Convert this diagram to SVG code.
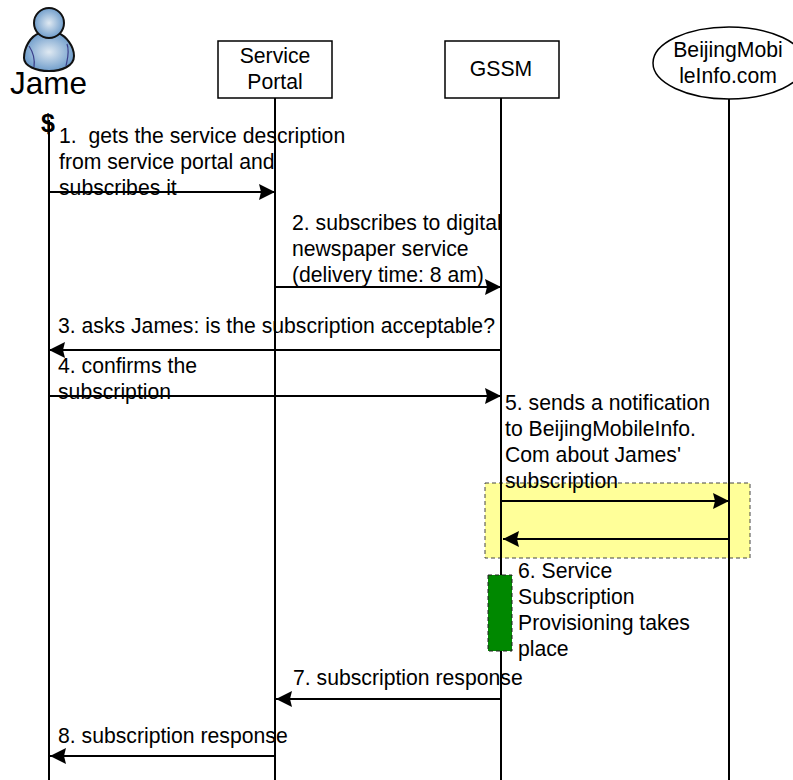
<svg xmlns="http://www.w3.org/2000/svg" width="793" height="780" viewBox="0 0 793 780">
<style>
text{font-family:"Liberation Sans",Arial,sans-serif;font-size:21.2px;fill:#000;white-space:pre}
.l{stroke:#000;stroke-width:2;fill:none}
.a{stroke:#000;stroke-width:2;fill:none;marker-end:url(#h)}
.n{fill:#fff;stroke:#000;stroke-width:1.5}
.c{text-anchor:middle}
</style>
<defs>
<marker id="h" markerUnits="userSpaceOnUse" markerWidth="18" markerHeight="18" refX="16" refY="8" orient="auto"><path d="M0 0L16 8L0 16L2 8Z" fill="#000"/></marker>
<radialGradient id="g" cx="50%" cy="50%" r="60%"><stop offset="0" stop-color="#dfe9f2"/><stop offset="1" stop-color="#5b8fc4"/></radialGradient>
</defs>
<rect x="485" y="483" width="265" height="75" fill="#ffff99" stroke="#444" stroke-width="1" stroke-dasharray="4 3"/>
<g id="connectors">
<path class="l" d="M49 120V780M275 98V780M501 98V575M501 651V780M729 99V780"/>
<path class="a" d="M49 192H275"/>
<path class="a" d="M275 287H501"/>
<path class="a" d="M501 350H49"/>
<path class="a" d="M49 396H501"/>
<path class="a" d="M501 501H729"/>
<path class="a" d="M729 539H503"/>
<path class="a" d="M501 699H276"/>
<path class="a" d="M275 756H50"/>
</g>
<g id="jame">
<path d="M40 33C30 36 24 48 24 58C24 66 36 71 49 71C62 71 74 66 74 56C74 46 66 36 58 33C52 38 46 38 40 33Z" fill="url(#g)" stroke="#111" stroke-width="2"/>
<path d="M29 46C33 52 35 60 34 67M67 44C70 52 67 60 66 66" fill="none" stroke="#3b3f8a" stroke-width="1.2"/>
<circle cx="49" cy="23" r="15" fill="url(#g)" stroke="#111" stroke-width="2"/>
<text x="10" y="94" style="font-size:31.5px">Jame</text>
<text x="41" y="132" style="font-size:25px;font-weight:bold">$</text>
</g>
<g id="portal"><rect class="n" x="218" y="41" width="114" height="57"/>
<text class="c" x="275" y="63">Service</text><text class="c" x="275" y="89">Portal</text></g>
<g id="gssm"><rect class="n" x="445" y="41" width="114" height="57"/>
<text class="c" x="501" y="76">GSSM</text></g>
<g id="beijing"><ellipse cx="729" cy="63" rx="76" ry="36" fill="#fff" stroke="#000" stroke-width="1.5"/>
<text class="c" x="728" y="57">BeijingMobi</text><text class="c" x="728" y="83">leInfo.com</text></g>
<g id="activity"><rect x="488" y="575" width="24" height="76" fill="#008800" stroke="#222" stroke-width="1" stroke-dasharray="4 3"/></g>
<g id="labels">
<text x="59" y="143">1.  gets the service description</text>
<text x="59" y="169">from service portal and</text>
<text x="59" y="195">subscribes it</text>
<text x="292" y="230">2. subscribes to digital</text>
<text x="292" y="256">newspaper service</text>
<text x="292" y="282">(delivery time: 8 am)</text>
<text x="58" y="333">3. asks James: is the subscription acceptable?</text>
<text x="58" y="373">4. confirms the</text>
<text x="58" y="399">subscription</text>
<text x="505" y="410">5. sends a notification</text>
<text x="505" y="436">to BeijingMobileInfo.</text>
<text x="505" y="462">Com about James'</text>
<text x="505" y="488">subscription</text>
<text x="518" y="578">6. Service</text>
<text x="518" y="604">Subscription</text>
<text x="518" y="630">Provisioning takes</text>
<text x="518" y="656">place</text>
<text x="293" y="685">7. subscription response</text>
<text x="58" y="743">8. subscription response</text>
</g>
</svg>
